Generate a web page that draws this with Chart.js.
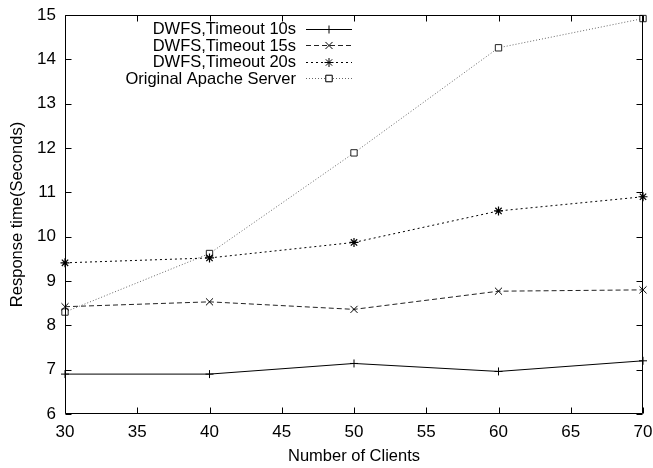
<!DOCTYPE html>
<html>
<head>
<meta charset="utf-8">
<script src="https://cdn.jsdelivr.net/npm/chart.js@4.4.0/dist/chart.umd.min.js"></script>
<style>
html,body{margin:0;padding:0;background:#fff;}
#wrap{width:653px;height:468px;}
</style>
</head>
<body>
<div id="wrap"><canvas id="c" width="653" height="468"></canvas></div>
<script>
const clients = [30, 40, 50, 60, 70];
const timeout10 = [6.90, 6.90, 7.14, 6.96, 7.20];
const timeout15 = [8.42, 8.53, 8.36, 8.77, 8.80];
const timeout20 = [9.41, 9.52, 9.87, 10.58, 10.90];
const apache = [8.30, 9.62, 11.89, 14.26, 14.92];
const seriesNames = ['DWFS,Timeout 10s', 'DWFS,Timeout 15s', 'DWFS,Timeout 20s', 'Original Apache Server'];
const xTitle = 'Number of Clients';
const yTitle = 'Response time(Seconds)';

const FONT = 'Liberation Sans, Arial, Helvetica, sans-serif';
Chart.defaults.color = '#000';
Chart.defaults.font.family = FONT;

function pts(vals){ return clients.map((c,i)=>({x:c, y:vals[i]})); }

const datasets = [
  {label: seriesNames[0], data: pts(timeout10), borderColor:'#000', borderWidth:1, borderDash:[],
   pointStyle:'cross', pointRadius:4, pointBorderColor:'#000', pointBorderWidth:1},
  {label: seriesNames[1], data: pts(timeout15), borderColor:'#222', borderWidth:1, borderDash:[5,3],
   pointStyle:'crossRot', pointRadius:5, pointBorderColor:'#000', pointBorderWidth:1},
  {label: seriesNames[2], data: pts(timeout20), borderColor:'#000', borderWidth:1, borderDash:[2,3],
   pointStyle:'star', pointRadius:4.5, pointBorderColor:'#000', pointBorderWidth:1.2},
  {label: seriesNames[3], data: pts(apache), borderColor:'#666', borderWidth:1, borderDash:[1,2],
   pointStyle:'rect', pointRadius:4.5, pointBorderColor:'#222', pointBackgroundColor:'#fff', pointBorderWidth:1}
];
datasets.forEach(d=>{ d.fill=false; d.tension=0; d.pointHoverRadius=d.pointRadius; d.clip=false; });

const frameTicks = {
  id:'frameTicks',
  afterDatasetsDraw(chart){
    const {ctx, chartArea:{left,right,top,bottom}, scales:{x,y}} = chart;
    ctx.save();
    ctx.strokeStyle = '#000';
    ctx.lineWidth = 1;
    ctx.beginPath();
    const L = Math.round(left)+0.5, R = Math.round(right)-0.5, T = Math.round(top)+0.5, B = Math.round(bottom)-0.5;
    ctx.rect(L, T, R-L, B-T);
    x.ticks.forEach(t=>{
      const px = Math.round(x.getPixelForValue(t.value))+0.5;
      ctx.moveTo(px, B); ctx.lineTo(px, B-6);
      ctx.moveTo(px, T); ctx.lineTo(px, T+6);
    });
    y.ticks.forEach(t=>{
      const py = Math.round(y.getPixelForValue(t.value))+0.5;
      ctx.moveTo(L, py); ctx.lineTo(L+6, py);
      ctx.moveTo(R, py); ctx.lineTo(R-6, py);
    });
    ctx.stroke();
    ctx.restore();
  }
};

const keyLegend = {
  id:'keyLegend',
  afterDraw(chart){
    const ctx = chart.ctx;
    ctx.save();
    ctx.font = '16.5px ' + FONT;
    ctx.textAlign = 'right';
    ctx.textBaseline = 'middle';
    chart.data.datasets.forEach((d,i)=>{
      const yy = 28.5 + i*16.5;
      ctx.fillStyle = '#000';
      ctx.fillText(d.label, 296, yy+1);
      ctx.beginPath();
      ctx.strokeStyle = d.borderColor;
      ctx.lineWidth = d.borderWidth;
      ctx.setLineDash(d.borderDash);
      ctx.moveTo(306, Math.round(yy)+0.5);
      ctx.lineTo(352, Math.round(yy)+0.5);
      ctx.stroke();
      ctx.setLineDash([]);
      ctx.strokeStyle = d.pointBorderColor;
      ctx.fillStyle = d.pointBackgroundColor || '#000';
      Chart.helpers.drawPoint(ctx, {pointStyle:d.pointStyle, radius:d.pointRadius, borderWidth:d.pointBorderWidth, rotation:0}, 329, Math.round(yy)+0.5);
      if (d.pointStyle === 'rect') { ctx.fill(); ctx.stroke(); }
    });
    ctx.restore();
  }
};

new Chart(document.getElementById('c'), {
  type:'line',
  data:{datasets},
  options:{
    responsive:false,
    animation:false,
    events:[],
    layout:{padding:{top:15, right:10, left:0, bottom:0}},
    plugins:{legend:{display:false}, tooltip:{enabled:false}},
    scales:{
      x:{
        type:'linear', min:30, max:70,
        ticks:{stepSize:5, font:{size:17}, padding:8, maxRotation:0},
        grid:{display:false, drawTicks:false},
        border:{display:false},
        title:{display:true, text:xTitle, font:{size:16.5}, padding:{top:0, bottom:2}},
        afterFit(s){ s.height = 54; s.paddingLeft = 0; s.paddingRight = 0; }
      },
      y:{
        type:'linear', min:6, max:15,
        ticks:{stepSize:1, font:{size:17}, padding:9},
        grid:{display:false, drawTicks:false},
        border:{display:false},
        title:{display:true, text:yTitle, font:{size:16.5}, padding:{top:8, bottom:0}},
        afterFit(s){ s.width = 65; s.paddingTop = 0; s.paddingBottom = 0; }
      }
    }
  },
  plugins:[frameTicks, keyLegend]
});
</script>
</body>
</html>
